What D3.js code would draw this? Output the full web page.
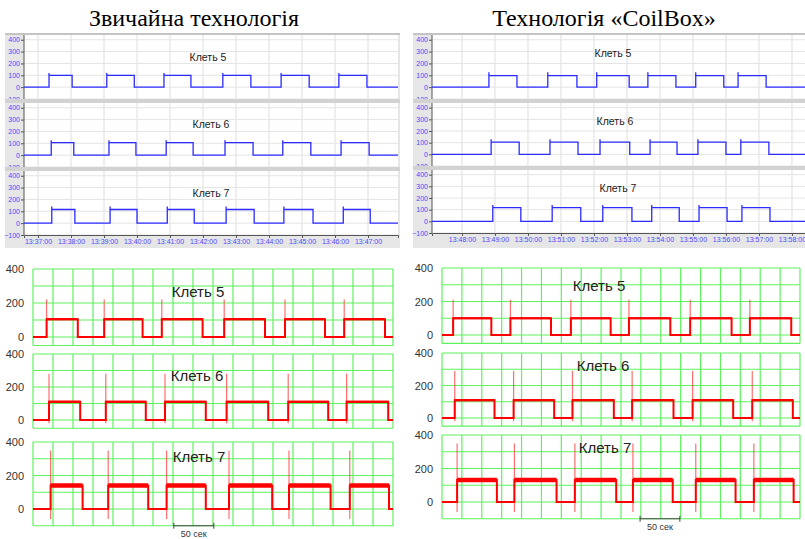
<!DOCTYPE html>
<html><head><meta charset="utf-8">
<script src="https://cdn.jsdelivr.net/npm/d3@7"></script>
<style>body{margin:0;background:#fff}svg{display:block}</style>
</head><body>
<svg id="c" width="805" height="539"></svg>
<script>
// ---------------- DATA ----------------
const titles = ["Звичайна технологія", "Технологія «CoilBox»"];
const panelNames = ["Клеть 5", "Клеть 6", "Клеть 7"];

// Blue (SCADA trend) charts: time in seconds from 13:37:00 (conventional) / 13:48:00 (CoilBox)
const convBlueTickLabels = ["13:37:00","13:38:00","13:39:00","13:40:00","13:41:00","13:42:00","13:43:00","13:44:00","13:45:00","13:46:00","13:47:00"];
const coilBlueTickLabels = ["13:48:00","13:49:00","13:50:00","13:51:00","13:52:00","13:53:00","13:54:00","13:55:00","13:56:00","13:57:00","13:58:00"];
const blueYTicks = [400, 300, 200, 100, 0, -100];

// pulses: [start s, end s]
const convBlueK5 = [[20,62],[125,175],[229,278],[336,387],[442,493],[547,598]];
const convBlueK6 = [[24,65],[129,178],[233,282],[340,391],[445,496],[551,602]];
const convBlueK7 = [[25,67],[131,180],[235,284],[342,393],[447,500],[555,604]];
const convBlueLevel = [100, 105, 115];
const convBlueSpike = [120, 125, 140];

const coilBlueK5 = [[49,100],[156,209],[245,304],[338,389],[425,476],[502,553]];
const coilBlueK6 = [[53,104],[160,211],[251,305],[342,391],[429,480],[507,558]];
const coilBlueK7 = [[56,107],[164,216],[256,309],[345,395],[431,482],[509,560]];
const coilBlueLevel = [97, 105, 118];
const coilBlueSpike = [125, 130, 140];

// Red (oscillograph) charts: time in seconds from record start
const redYTicks = [400, 200, 0];
const convRedK5 = [[17,56],[89,137],[161,212],[239,290],[315,365],[389,440]];
const convRedK6 = [[20,59],[91,141],[165,216],[242,294],[319,369],[392,444]];
const convRedK7 = [[22,62],[94,144],[167,216],[245,299],[320,372],[396,445]];
const convRedLevel = [105, 110, 140];
const convRedSpike = [220, 280, 350];
const convRedDip = [0, -20, -60];

const coilRedK5 = [[14,62],[86,137],[162,212],[235,287],[312,364],[387,439]];
const coilRedK6 = [[16,66],[90,141],[164,216],[239,291],[315,366],[390,441]];
const coilRedK7 = [[19,69],[91,144],[167,219],[240,290],[319,369],[392,442]];
const coilRedLevel = [100, 110, 132];
const coilRedSpike = [210, 290, 350];
const coilRedDip = [0, -20, -60];

const scaleBarLabel = "50 сек";

// ---------------- DRAW ----------------
const svg = d3.select("#c");

svg.append("text").attr("x", 194).attr("y", 26).attr("text-anchor", "middle")
  .attr("font-family", "'Liberation Serif','Times New Roman',serif").attr("font-size", 24)
  .attr("fill", "#000").text(titles[0]);
svg.append("text").attr("x", 604).attr("y", 26).attr("text-anchor", "middle")
  .attr("font-family", "'Liberation Serif','Times New Roman',serif").attr("font-size", 24)
  .attr("fill", "#000").text(titles[1]);

function stepPoints(pulses, level, spike, x0, x1, withSpike) {
  const pts = [[x0, 0]];
  pulses.forEach(([a, b]) => {
    pts.push([a, 0]);
    if (withSpike) pts.push([a, spike]);
    pts.push([a, level], [b, level], [b, 0]);
  });
  pts.push([x1, 0]);
  return pts;
}

function blueGroup(cfg) {
  const g = svg.append("g");
  g.append("rect").attr("x", cfg.cx0).attr("y", 33).attr("width", cfg.cx1 - cfg.cx0).attr("height", 215).attr("fill", "#e6e6e6");
  g.append("rect").attr("x", cfg.cx0).attr("y", 33).attr("width", cfg.cx1 - cfg.cx0).attr("height", 2).attr("fill", "#c4c4c4");
  const x = d3.scaleLinear().domain(cfg.domain).range([cfg.px0, cfg.px1]);
  const tickVals = cfg.tickLabels.map((d, i) => i * 60);
  cfg.panelsY.forEach((py, i) => {
    const y = d3.scaleLinear().domain([-100, 440]).range([py[1], py[0]]);
    if (i > 0) g.append("rect").attr("x", cfg.cx0).attr("y", py[0] - 4).attr("width", cfg.cx1 - cfg.cx0).attr("height", 4).attr("fill", "#d2d2d2");
    g.append("rect").attr("x", cfg.px0).attr("y", py[0]).attr("width", cfg.px1 - cfg.px0).attr("height", py[1] - py[0]).attr("fill", "#fff");
    g.append("g").selectAll("line").data(tickVals).join("line")
      .attr("x1", d => x(d)).attr("x2", d => x(d)).attr("y1", py[0]).attr("y2", py[1])
      .attr("stroke", "#dedede").attr("stroke-width", 1);
    g.append("g").selectAll("line").data(blueYTicks).join("line")
      .attr("x1", cfg.px0).attr("x2", cfg.px1).attr("y1", d => y(d)).attr("y2", d => y(d))
      .attr("stroke", "#e4e4e4").attr("stroke-width", 1);
    const ay = g.append("g").attr("transform", `translate(${cfg.px0},0)`)
      .call(d3.axisLeft(y).tickValues(blueYTicks).tickSize(3).tickPadding(1).tickFormat(d3.format("d")));
    ay.select(".domain").attr("stroke", "#555").attr("d", `M0,${py[0]}V${py[1]}`);
    ay.selectAll(".tick line").attr("stroke", "#555");
    ay.selectAll("text").attr("fill", "#4a4aff").attr("font-size", 7).attr("font-family", "'Liberation Sans',Arial,sans-serif");
    const pts = stepPoints(cfg.series[i], cfg.level[i], cfg.spike[i], cfg.domain[0], cfg.domain[1], true);
    g.append("path").attr("d", d3.line().x(d => x(d[0])).y(d => y(d[1]))(pts))
      .attr("fill", "none").attr("stroke", "#2b2bff").attr("stroke-width", 1.3);
    g.append("text").attr("x", cfg.labelPos[i][0]).attr("y", cfg.labelPos[i][1]).attr("text-anchor", "middle")
      .attr("font-family", "'Liberation Sans',Arial,sans-serif").attr("font-size", 10.5).attr("fill", "#222").text(panelNames[i]);
  });
  const last = cfg.panelsY[2][1];
  const ax = g.append("g").attr("transform", `translate(0,${last})`)
    .call(d3.axisBottom(x).tickValues(tickVals).tickSize(3).tickPadding(1).tickFormat((d, i) => cfg.tickLabels[i]));
  ax.select(".domain").attr("stroke", "#555");
  ax.selectAll(".tick line").attr("stroke", "#555");
  ax.selectAll("text").attr("fill", "#4a4aff").attr("font-size", 7).attr("font-family", "'Liberation Sans',Arial,sans-serif");
}

blueGroup({
  cx0: 5, cx1: 400, px0: 24, px1: 398, domain: [-25.5, 654.5],
  panelsY: [[35, 99], [103, 167], [171, 235]],
  tickLabels: convBlueTickLabels,
  series: [convBlueK5, convBlueK6, convBlueK7], level: convBlueLevel, spike: convBlueSpike,
  labelPos: [[208, 61], [211, 128], [211, 197]]
});
blueGroup({
  cx0: 413, cx1: 805, px0: 432, px1: 806, domain: [-54.5, 625.5],
  panelsY: [[35, 99], [103, 166], [170, 233]],
  tickLabels: coilBlueTickLabels,
  series: [coilBlueK5, coilBlueK6, coilBlueK7], level: coilBlueLevel, spike: coilBlueSpike,
  labelPos: [[613, 57], [615, 125], [618, 192]]
});

function redGroup(cfg) {
  const g = svg.append("g");
  const x = d3.scaleLinear().domain([0, 450]).range([cfg.px0, cfg.px1]);
  const xGrid = d3.range(0, 451, 25);
  cfg.panels.forEach((p, i) => {
    const y = d3.scaleLinear().domain([0, 400]).range([p.zero, p.top]);
    const green = "#5ef25e";
    g.append("g").selectAll("line").data(xGrid).join("line")
      .attr("x1", d => x(d)).attr("x2", d => x(d)).attr("y1", y(400)).attr("y2", y(p.min))
      .attr("stroke", green).attr("stroke-width", 1.2);
    g.append("g").selectAll("line").data(d3.range(0, 401, 100).concat([p.min])).join("line")
      .attr("x1", x(0)).attr("x2", x(450)).attr("y1", d => y(d)).attr("y2", d => y(d))
      .attr("stroke", green).attr("stroke-width", 1.2);
    g.append("g").selectAll("text").data(redYTicks).join("text")
      .attr("x", cfg.px0 - 9).attr("y", d => y(d) + 4).attr("text-anchor", "end")
      .attr("font-family", "'Liberation Sans',Arial,sans-serif").attr("font-size", 11).attr("fill", "#333")
      .text(d => d);
    g.append("g").selectAll("line").data(cfg.series[i]).join("line")
      .attr("x1", d => x(d[0])).attr("x2", d => x(d[0])).attr("y1", y(cfg.dip[i])).attr("y2", y(cfg.spike[i]))
      .attr("stroke", "#ff3030").attr("stroke-width", 1.2).attr("stroke-opacity", 0.7);
    const pts = stepPoints(cfg.series[i], cfg.level[i], 0, 0, 450, false);
    g.append("path").attr("d", d3.line().x(d => x(d[0])).y(d => y(d[1]))(pts))
      .attr("fill", "none").attr("stroke", "#ff0000").attr("stroke-width", 2);
    g.append("g").selectAll("line").data(cfg.series[i]).join("line")
      .attr("x1", d => x(d[0])).attr("x2", d => x(d[1])).attr("y1", y(cfg.level[i])).attr("y2", y(cfg.level[i]))
      .attr("stroke", "#ff0000").attr("stroke-width", cfg.noise[i]);
    g.append("text").attr("x", cfg.labelPos[i][0]).attr("y", cfg.labelPos[i][1]).attr("text-anchor", "middle")
      .attr("font-family", "'Liberation Sans',Arial,sans-serif").attr("font-size", 15).attr("fill", "#222").text(panelNames[i]);
    if (i === 2) {
      const yb = y(p.min);
      const bar = g.append("g");
      bar.append("line").attr("x1", x(cfg.bar[0])).attr("x2", x(cfg.bar[1])).attr("y1", yb).attr("y2", yb).attr("stroke", "#444").attr("stroke-width", 1.2);
      [cfg.bar[0], cfg.bar[1]].forEach(t => bar.append("line").attr("x1", x(t)).attr("x2", x(t)).attr("y1", yb - 3).attr("y2", yb + 3).attr("stroke", "#444"));
      bar.append("text").attr("x", x((cfg.bar[0] + cfg.bar[1]) / 2)).attr("y", yb + 11).attr("text-anchor", "middle")
        .attr("font-family", "'Liberation Sans',Arial,sans-serif").attr("font-size", 9).attr("fill", "#333").text(scaleBarLabel);
    }
  });
}

redGroup({
  px0: 33, px1: 393,
  panels: [{ top: 269, zero: 337, min: -50 }, { top: 354, zero: 420, min: -50 }, { top: 442, zero: 509, min: -100 }],
  series: [convRedK5, convRedK6, convRedK7], level: convRedLevel, spike: convRedSpike, dip: convRedDip,
  noise: [2.2, 2.4, 4.5],
  labelPos: [[198, 297], [197, 381], [199, 462]],
  bar: [176, 226]
});
redGroup({
  px0: 442, px1: 800,
  panels: [{ top: 268, zero: 335, min: -50 }, { top: 353, zero: 418, min: -50 }, { top: 435, zero: 502, min: -100 }],
  series: [coilRedK5, coilRedK6, coilRedK7], level: coilRedLevel, spike: coilRedSpike, dip: coilRedDip,
  noise: [2.2, 2.4, 4.5],
  labelPos: [[599, 291], [603, 371], [605, 453]],
  bar: [249, 299]
});
</script>
</body></html>
